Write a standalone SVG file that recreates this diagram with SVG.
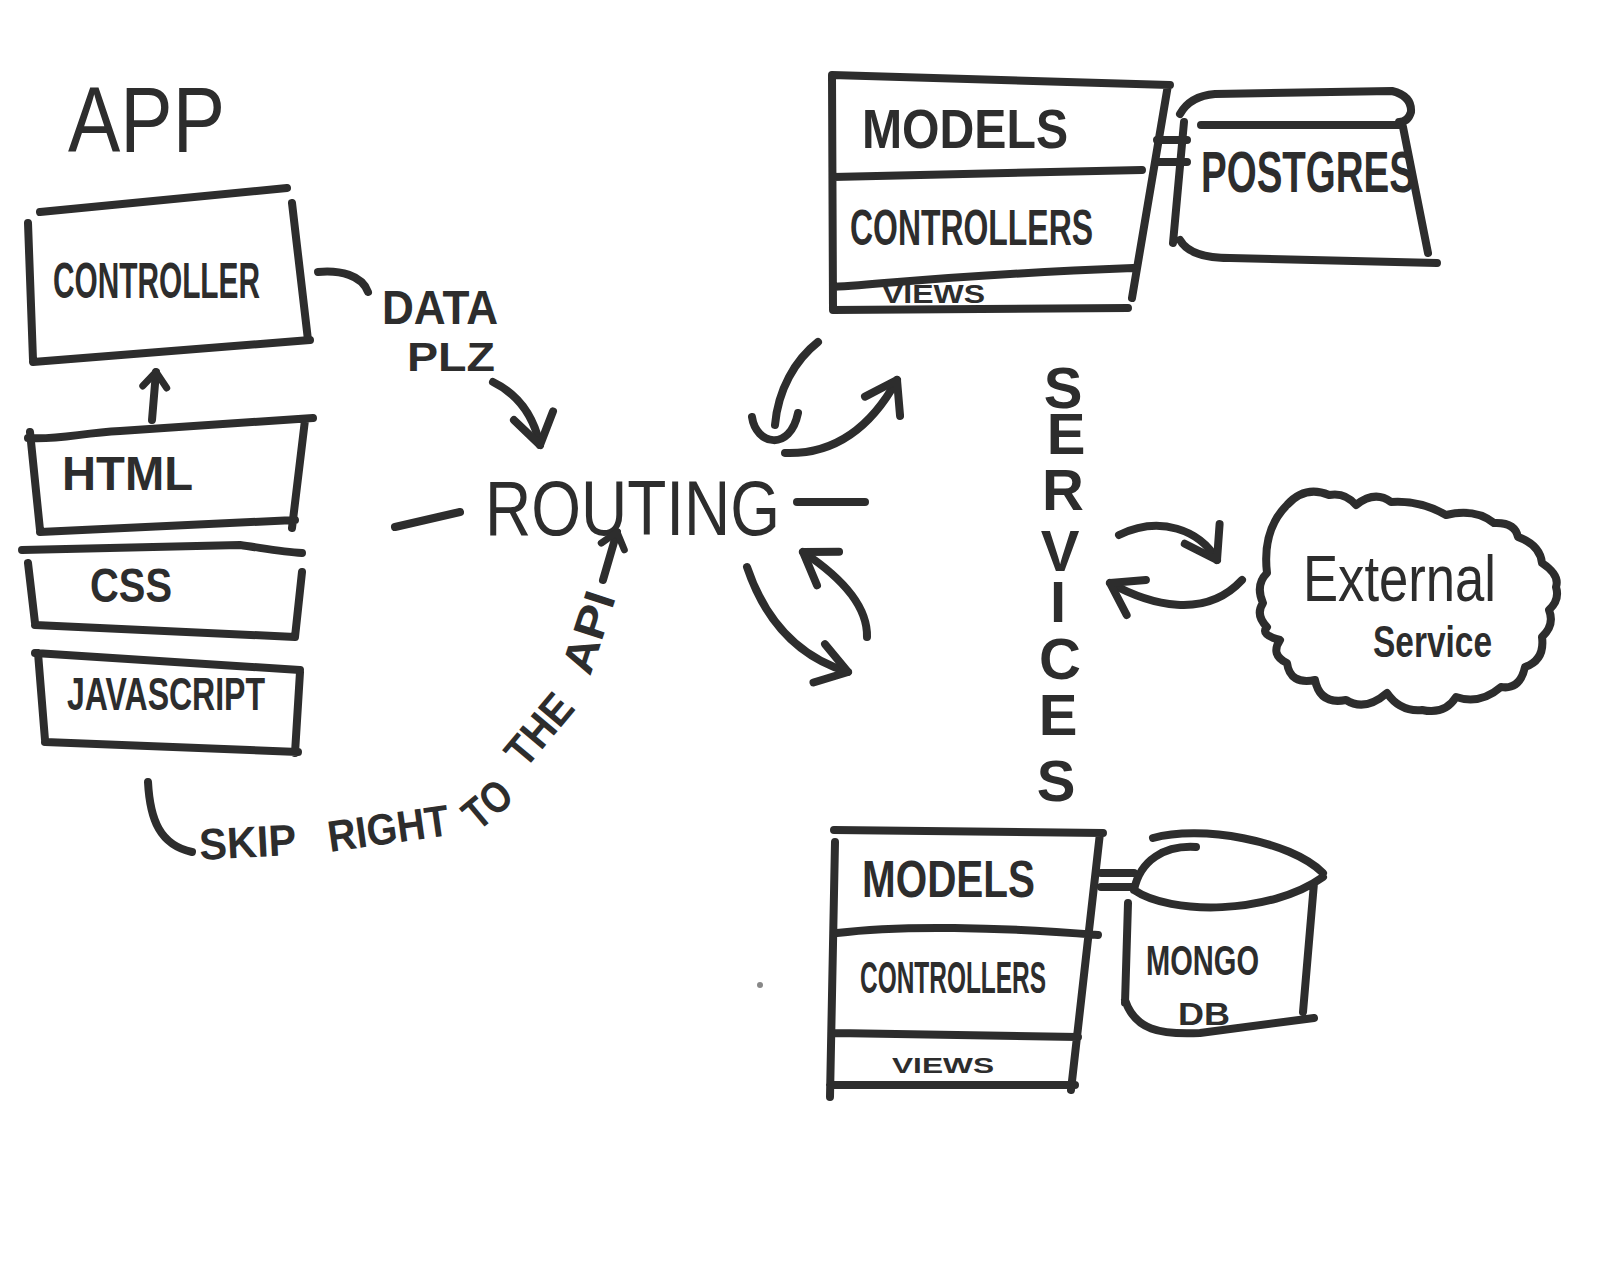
<svg xmlns="http://www.w3.org/2000/svg" width="1600" height="1273" viewBox="0 0 1600 1273">
<style>
.ln{fill:none;stroke:#2d2d2d;stroke-width:8;stroke-linecap:round;stroke-linejoin:round}
.t{font-family:"Liberation Sans",Arial,sans-serif;fill:#2d2d2d;font-weight:bold}
.n{font-weight:normal}
.sk{font-size:44px}
</style>
<defs>
<marker id="v" markerUnits="userSpaceOnUse" markerWidth="60" markerHeight="60" viewBox="-40 -30 60 60" refX="0" refY="0" orient="auto">
<path d="M-30,-20 L0,0 L-30,20" fill="none" stroke="#2d2d2d" stroke-width="8" stroke-linecap="round" stroke-linejoin="round"/>
</marker>
<marker id="vs" markerUnits="userSpaceOnUse" markerWidth="40" markerHeight="40" viewBox="-25 -20 40 40" refX="0" refY="0" orient="auto">
<path d="M-15,-12 L0,0 L-15,12" fill="none" stroke="#2d2d2d" stroke-width="7" stroke-linecap="round" stroke-linejoin="round"/>
</marker>
</defs>
<rect width="1600" height="1273" fill="#ffffff"/>

<g id="app-label"><text class="t n" x="68" y="152" font-size="92" textLength="157" lengthAdjust="spacingAndGlyphs">APP</text></g>

<g id="controller">
<path class="ln" d="M40,212 L287,188 M28,223 L33,360 M292,203 L308,340 M33,362 L310,340"/>
<text class="t" x="53" y="298" font-size="50" textLength="207" lengthAdjust="spacingAndGlyphs">CONTROLLER</text>
</g>
<g id="html">
<path class="ln" d="M28,438 C60,440 80,433 120,431 L313,418 M30,432 L40,530 M305,420 L292,528 M40,532 L295,520"/>
<text class="t" x="62" y="490" font-size="48" textLength="131" lengthAdjust="spacingAndGlyphs">HTML</text>
</g>
<g id="css">
<path class="ln" d="M22,550 C100,548 200,546 240,545 C262,548 282,552 302,553 M28,563 L35,623 M302,572 L295,637 M35,625 L295,637"/>
<text class="t" x="90" y="602" font-size="48" textLength="82" lengthAdjust="spacingAndGlyphs">CSS</text>
</g>
<g id="javascript">
<path class="ln" d="M35,653 L300,670 M38,653 L45,740 M300,672 L295,753 M45,742 L298,752"/>
<text class="t" x="67" y="710" font-size="46" textLength="198" lengthAdjust="spacingAndGlyphs">JAVASCRIPT</text>
</g>

<g id="data-plz"><text class="t" x="382" y="324" font-size="48" textLength="116" lengthAdjust="spacingAndGlyphs">DATA</text>
<text class="t" x="407" y="371" font-size="40" textLength="88" lengthAdjust="spacingAndGlyphs">PLZ</text></g>

<g id="routing"><text class="t n" x="485" y="535" font-size="78" textLength="295" lengthAdjust="spacingAndGlyphs">ROUTING</text></g>

<g id="skip-label">
<text class="t sk" x="200" y="860" textLength="97" lengthAdjust="spacingAndGlyphs" transform="rotate(-3 200 860)">SKIP</text>
<text class="t sk" x="330" y="852" textLength="122" lengthAdjust="spacingAndGlyphs" transform="rotate(-8 330 852)">RIGHT</text>
<text class="t sk" x="478" y="832" textLength="50" lengthAdjust="spacingAndGlyphs" transform="rotate(-40 478 832)">TO</text>
<text class="t sk" x="525" y="770" textLength="80" lengthAdjust="spacingAndGlyphs" transform="rotate(-50 525 770)">THE</text>
<text class="t sk" x="590" y="677" textLength="84" lengthAdjust="spacingAndGlyphs" transform="rotate(-72 590 677)">API</text>
</g>

<g id="service-top">
<path class="ln" d="M832,75 L1170,85 M832,75 L833,310 M1168,85 L1132,298 M833,177 L1142,170 M833,287 C900,283 950,275 1133,268 M833,310 L1128,308"/>
<text class="t" x="862" y="148" font-size="56" textLength="206" lengthAdjust="spacingAndGlyphs">MODELS</text>
<text class="t" x="850" y="245" font-size="50" textLength="243" lengthAdjust="spacingAndGlyphs">CONTROLLERS</text>
<text class="t" x="882" y="303" font-size="26" textLength="103" lengthAdjust="spacingAndGlyphs">VIEWS</text>
</g>
<g id="postgres">
<path class="ln" d="M1180,114 Q1190,96 1215,94 L1392,91 Q1412,96 1411,112 Q1408,122 1399,122 M1201,125 L1399,125 M1184,122 L1173,243 M1403,127 L1428,253 M1180,240 Q1190,258 1230,258 L1437,263"/>
<text class="t" x="1201" y="192" font-size="58" textLength="214" lengthAdjust="spacingAndGlyphs">POSTGRES</text>
</g>

<g id="services-label">
<text class="t" font-size="58" text-anchor="middle" x="1063 1066 1063 1060 1058 1060 1058 1056" y="408 454 510 571 622 679 735 801">SERVICES</text>
</g>

<g id="external-service">
<path class="ln" d="M1267,573 Q1262,530 1287,505 Q1305,485 1329,495 Q1345,492 1356,505 Q1375,490 1391,502 Q1420,500 1446,515 Q1475,508 1494,523 Q1515,522 1518,537 Q1540,545 1542,563 Q1560,575 1556,587 Q1560,600 1549,610 Q1555,625 1542,637 Q1545,660 1525,667 Q1520,690 1501,687 Q1480,705 1456,697 Q1445,715 1422,710 Q1400,712 1387,693 Q1365,712 1346,700 Q1320,705 1315,680 Q1290,685 1287,663 Q1270,655 1280,640 Q1260,635 1267,627 Q1255,615 1263,603 Q1255,585 1267,573 Z"/>
<text class="t n" x="1303" y="601" font-size="64" textLength="193" lengthAdjust="spacingAndGlyphs">External</text>
<text class="t" x="1373" y="657" font-size="44" textLength="119" lengthAdjust="spacingAndGlyphs">Service</text>
</g>

<g id="service-bottom">
<path class="ln" d="M834,830 L1103,833 M835,842 L830,1097 M1100,833 L1071,1090 M837,933 C900,925 1000,927 1098,935 M835,1033 L1078,1037 M830,1085 L1075,1085"/>
<text class="t" x="862" y="897" font-size="52" textLength="173" lengthAdjust="spacingAndGlyphs">MODELS</text>
<text class="t" x="860" y="993" font-size="44" textLength="186" lengthAdjust="spacingAndGlyphs">CONTROLLERS</text>
<text class="t" x="892" y="1073" font-size="22" textLength="102" lengthAdjust="spacingAndGlyphs">VIEWS</text>
</g>
<g id="mongodb">
<path class="ln" d="M1134,890 C1140,860 1165,845 1196,847 M1153,838 C1200,825 1290,840 1323,873 M1134,890 C1170,915 1270,915 1323,877 M1128,903 L1125,1003 M1314,883 L1303,1012 M1125,1000 C1135,1030 1160,1035 1200,1033 L1314,1018"/>
<text class="t" x="1146" y="975" font-size="42" textLength="113" lengthAdjust="spacingAndGlyphs">MONGO</text>
<text class="t" x="1178" y="1025" font-size="32" textLength="52" lengthAdjust="spacingAndGlyphs">DB</text>
</g>

<g id="connectors">
<path class="ln" d="M152,420 L156,372" marker-end="url(#vs)"/>
<path class="ln" d="M318,272 C340,270 362,275 368,292"/>
<path class="ln" d="M493,382 Q530,400 540,445" marker-end="url(#v)"/>
<path class="ln" d="M395,527 L460,512"/>
<path class="ln" d="M797,502 L865,502"/>
<path class="ln" d="M148,782 C150,820 160,845 192,852"/>
<path class="ln" d="M603,580 L617,532" marker-end="url(#vs)"/>
<path class="ln" d="M818,342 C795,360 778,390 775,425 M752,417 C756,445 790,452 798,413"/>
<path class="ln" d="M785,453 C840,455 875,420 897,380" marker-end="url(#v)"/>
<path class="ln" d="M747,567 Q775,650 848,672" marker-end="url(#v)"/>
<path class="ln" d="M867,637 Q868,595 803,552" marker-end="url(#v)"/>
<path class="ln" d="M1119,535 C1160,515 1200,530 1217,560" marker-end="url(#v)"/>
<path class="ln" d="M1242,580 C1205,620 1150,605 1110,583" marker-end="url(#v)"/>
<path class="ln" d="M1157,140 L1187,140 M1157,162 L1187,162"/>
<path class="ln" d="M1101,873 L1134,873 M1101,887 L1134,887"/>
</g>
<circle cx="760" cy="985" r="3" fill="#888"/>
</svg>
